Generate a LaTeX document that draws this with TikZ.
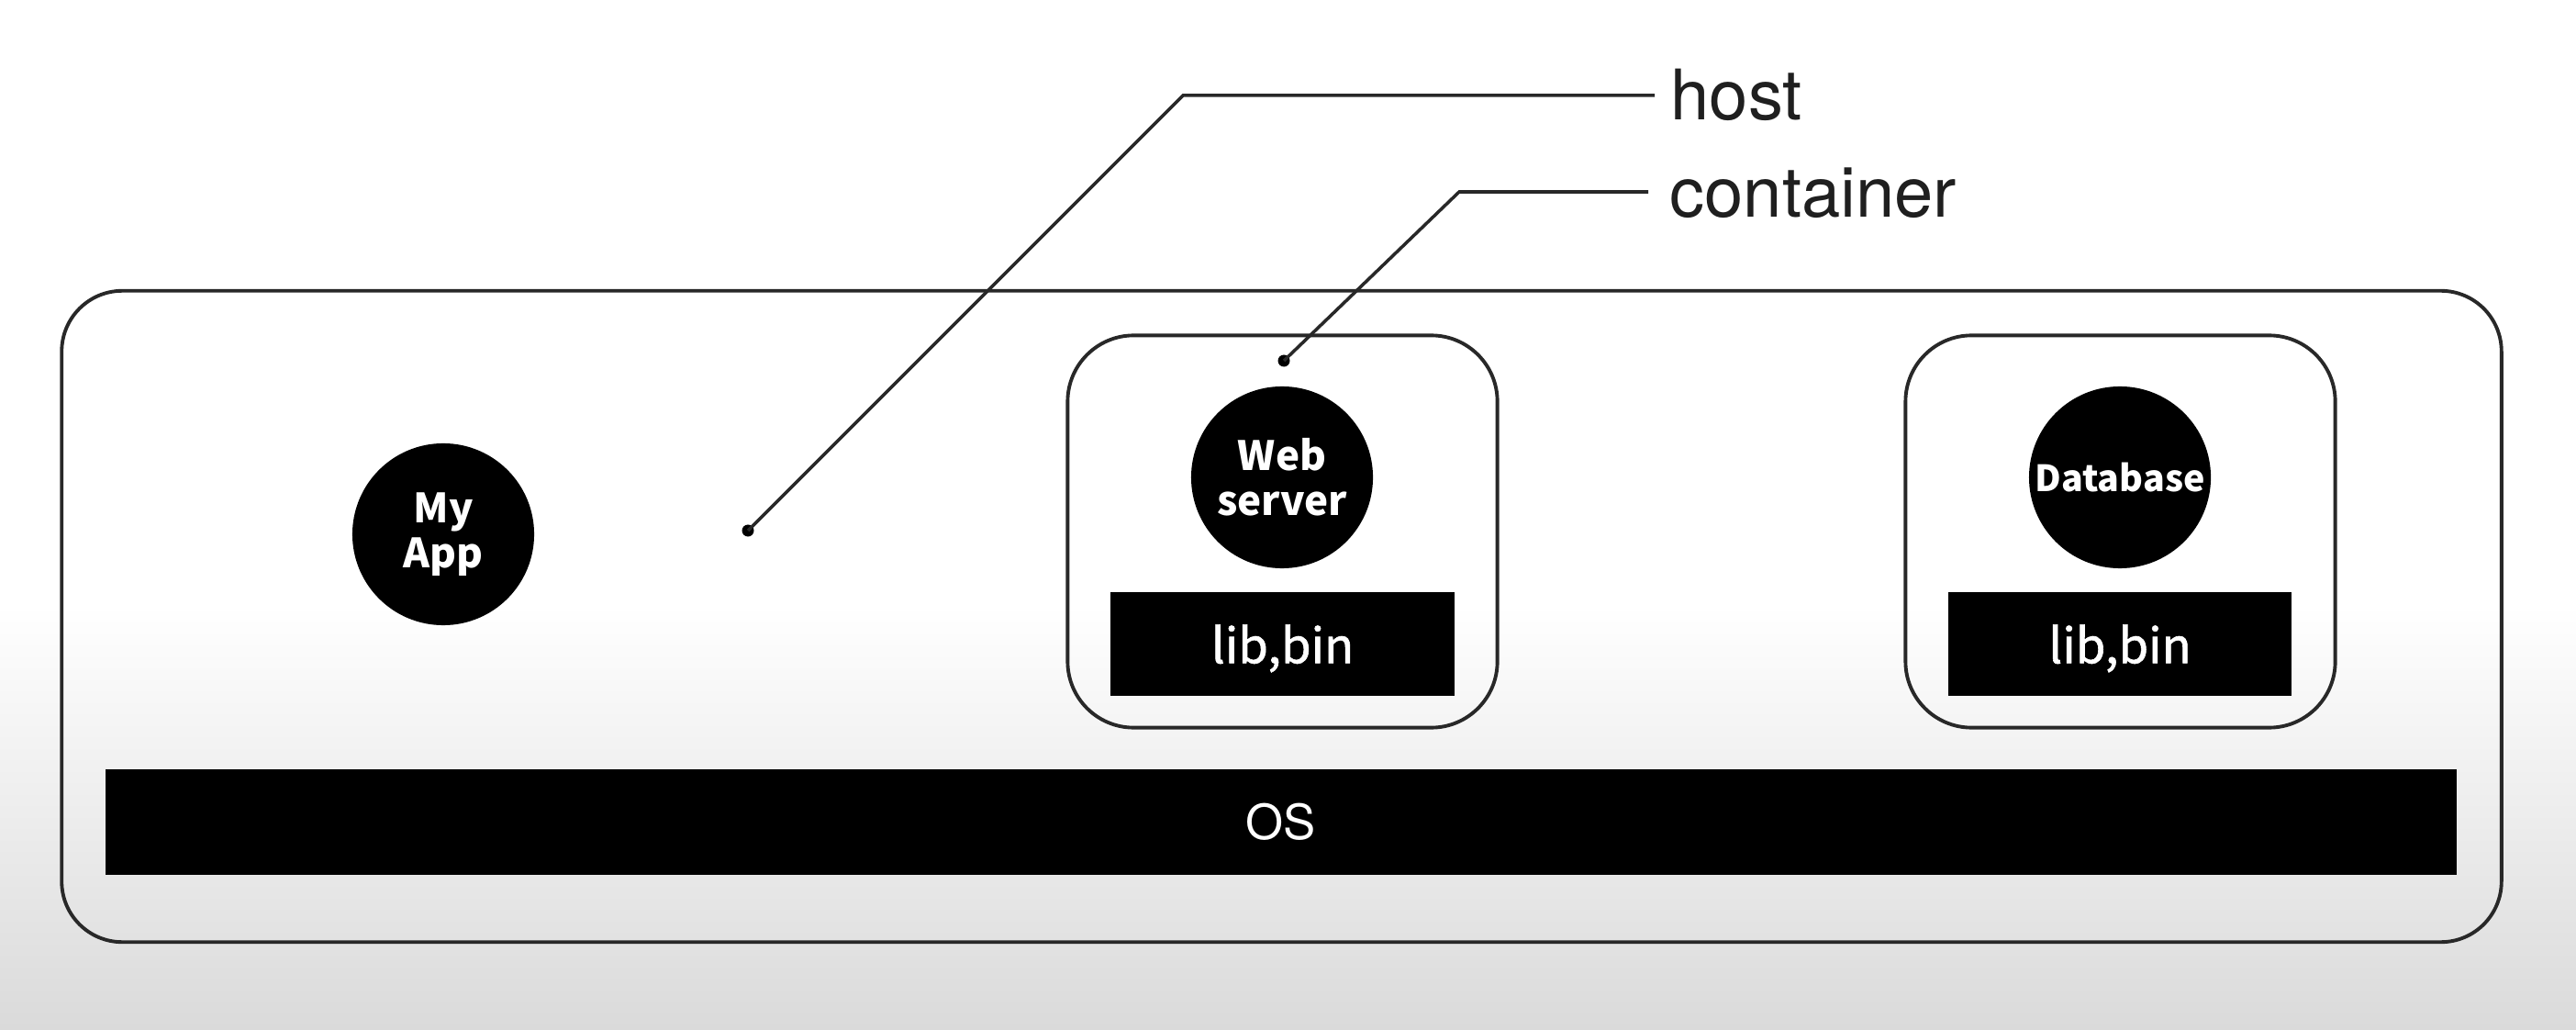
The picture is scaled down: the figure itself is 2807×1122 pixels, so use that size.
\documentclass[tikz,border=0pt]{standalone}
\usepackage{fontspec}
\setmainfont{TeX Gyre Heros}
\newfontfamily\tagfont{Noto Sans CJK KR}
\newfontfamily\libfont{Noto Sans CJK KR}[BoldFont={Noto Sans CJK KR}, BoldFeatures={FakeBold=1.2}]
\definecolor{bgbottom}{RGB}{218,218,218}
\definecolor{inkline}{RGB}{40,40,40}
\newcommand{\dropped}[1]{\raisebox{-1.4pt}[\height][\depth]{#1}}
\tikzset{
  hostbox/.style={draw=inkline, line width=1.1pt, rounded corners=0.66cm,
    minimum width=26.57cm, minimum height=7.09cm, inner sep=0pt},
  ctrbox/.style={draw=inkline, line width=1.1pt, rounded corners=0.72cm,
    minimum width=4.68cm, minimum height=4.27cm, inner sep=0pt},
  appcircle/.style={circle, fill=black, minimum size=1.98cm, inner sep=0pt,
    text=white, align=center,
    font=\tagfont\bfseries\fontsize{12.5}{14}\selectfont},
  libbox/.style={fill=black, minimum width=3.74cm, minimum height=1.13cm,
    inner sep=0pt, text=white, font=\libfont\bfseries\fontsize{15}{18}\selectfont},
  osbar/.style={fill=black, minimum width=25.6cm, minimum height=1.14cm,
    inner sep=0pt, text=white, font=\fontsize{15}{18}\selectfont},
  dotmark/.style={circle, fill=black, minimum size=0.13cm, inner sep=0pt},
  leader/.style={draw=inkline, line width=1pt},
  tag/.style={font=\fontsize{21.6}{26}\selectfont, inner sep=0pt, text=black!88}
}
\begin{document}
\begin{tikzpicture}[x=0.01cm, y=-0.01cm]
\useasboundingbox (0,0) rectangle (2807,1122);
% backdrop: white, fading to light grey towards the bottom
\fill[white] (0,0) rectangle (2807,660);
\shade[top color=white, bottom color=bgbottom] (0,659) rectangle (2807,1122);

% host machine
\node[hostbox] (host) at (1396.5,671.5) {};

% containers
\node[ctrbox] (webctr) at (1397.5,579) {};
\node[ctrbox] (dbctr) at (2310.5,579) {};

% processes
\node[appcircle] (myapp) at (483,582) {My\\App};
\node[appcircle] (websrv) at (1397,520) {Web\\server};
\node[appcircle] (dbsrv) at (2310,520)
  {\makebox[0pt]{\fontsize{11.2}{14}\selectfont Database}};

% libraries inside the containers
\node[libbox] (libweb) at (1397.5,701.5) {\dropped{lib,bin}};
\node[libbox] (libdb) at (2310,701.5) {\dropped{lib,bin}};

% operating system
\node[osbar] (os) at (1396,895.5) {OS};

% callout: host
\node[dotmark] (hostdot) at (815,578) {};
\coordinate (hostbend) at (1289,104);
\coordinate (hostend) at (1803,104);
\node[tag, anchor=base west] (hostlbl) at (1820,131) {host};
\draw[leader] (hostdot.center) -- (hostbend) -- (hostend);

% callout: container
\node[dotmark] (ctrdot) at (1399,393) {};
\coordinate (ctrbend) at (1590,209);
\coordinate (ctrend) at (1796,209);
\node[tag, anchor=base west] (ctrlbl) at (1819,237) {container};
\draw[leader] (ctrdot.center) -- (ctrbend) -- (ctrend);
\end{tikzpicture}
\end{document}
